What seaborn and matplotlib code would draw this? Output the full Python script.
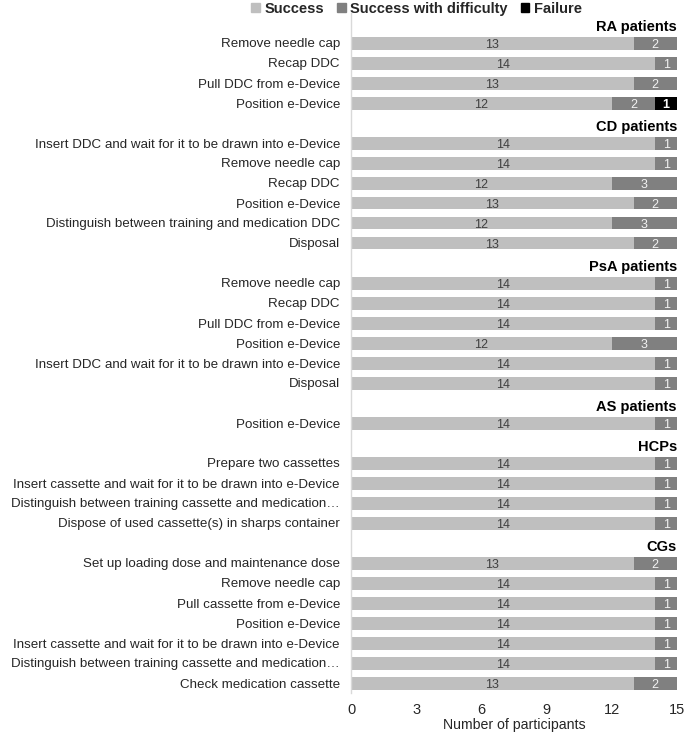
import matplotlib
matplotlib.use("Agg")
import matplotlib.pyplot as plt
import seaborn as sns
import pandas as pd
from matplotlib.patches import Patch

sns.set_theme(style="white")
plt.rcParams['font.family'] = ['Liberation Sans', 'DejaVu Sans']

groups = ["RA patients", "CD patients", "PsA patients", "AS patients", "HCPs", "CGs"]

ra_tasks = ["Remove needle cap", "Recap DDC", "Pull DDC from e-Device", "Position e-Device"]
ra_success = [13, 14, 13, 12]
ra_difficulty = [2, 1, 2, 2]
ra_failure = [0, 0, 0, 1]

cd_tasks = ["Insert DDC and wait for it to be drawn into e-Device", "Remove needle cap", "Recap DDC",
            "Position e-Device", "Distinguish between training and medication DDC", "Disposal"]
cd_success = [14, 14, 12, 13, 12, 13]
cd_difficulty = [1, 1, 3, 2, 3, 2]
cd_failure = [0, 0, 0, 0, 0, 0]

psa_tasks = ["Remove needle cap", "Recap DDC", "Pull DDC from e-Device", "Position e-Device",
             "Insert DDC and wait for it to be drawn into e-Device", "Disposal"]
psa_success = [14, 14, 14, 12, 14, 14]
psa_difficulty = [1, 1, 1, 3, 1, 1]
psa_failure = [0, 0, 0, 0, 0, 0]

as_tasks = ["Position e-Device"]
as_success = [14]
as_difficulty = [1]
as_failure = [0]

hcp_tasks = ["Prepare two cassettes", "Insert cassette and wait for it to be drawn into e-Device",
             "Distinguish between training cassette and medication\u2026",
             "Dispose of used cassette(s) in sharps container"]
hcp_success = [14, 14, 14, 14]
hcp_difficulty = [1, 1, 1, 1]
hcp_failure = [0, 0, 0, 0]

cg_tasks = ["Set up loading dose and maintenance dose", "Remove needle cap", "Pull cassette from e-Device",
            "Position e-Device", "Insert cassette and wait for it to be drawn into e-Device",
            "Distinguish between training cassette and medication\u2026", "Check medication cassette"]
cg_success = [13, 14, 14, 14, 14, 14, 13]
cg_difficulty = [2, 1, 1, 1, 1, 1, 2]
cg_failure = [0, 0, 0, 0, 0, 0, 0]

xticks = [0, 3, 6, 9, 12, 15]

group_data = [
    (ra_tasks, ra_success, ra_difficulty, ra_failure),
    (cd_tasks, cd_success, cd_difficulty, cd_failure),
    (psa_tasks, psa_success, psa_difficulty, psa_failure),
    (as_tasks, as_success, as_difficulty, as_failure),
    (hcp_tasks, hcp_success, hcp_difficulty, hcp_failure),
    (cg_tasks, cg_success, cg_difficulty, cg_failure),
]

rows = []
order = []
ylabels = []
header_pos = []
for gi, (g, (tasks, s, d, f)) in enumerate(zip(groups, group_data)):
    hk = f"{gi}_header"
    order.append(hk)
    ylabels.append("")
    header_pos.append((len(order) - 1, g))
    for ti, t in enumerate(tasks):
        key = f"{gi}_{ti}"
        order.append(key)
        ylabels.append(t)
        rows.append(dict(key=key, success=s[ti], difficulty=d[ti], failure=f[ti]))

df = pd.DataFrame(rows)
df["c2"] = df["success"] + df["difficulty"]
df["c3"] = df["c2"] + df["failure"]

c_succ = "#BFBFBF"
c_diff = "#808080"
c_fail = "#000000"

fig = plt.figure(figsize=(6.85, 7.35), dpi=100)
ax = fig.add_axes([351/685, 1 - 693/735, (677-351)/685, (693-13)/735])

bw = 0.65
sns.barplot(data=df, x="c3", y="key", order=order, color=c_fail, saturation=1,
            width=bw, errorbar=None, ax=ax, linewidth=0)
sns.barplot(data=df, x="c2", y="key", order=order, color=c_diff, saturation=1,
            width=bw, errorbar=None, ax=ax, linewidth=0)
sns.barplot(data=df, x="success", y="key", order=order, color=c_succ, saturation=1,
            width=bw, errorbar=None, ax=ax, linewidth=0)

pos = {k: i for i, k in enumerate(order)}
for _, r in df.iterrows():
    y = pos[r["key"]]
    if r["success"] > 0:
        ax.text(r["success"] / 2, y, str(r["success"]), ha="center", va="center_baseline",
                fontsize=9, color="#404040")
    if r["difficulty"] > 0:
        ax.text(r["success"] + r["difficulty"] / 2, y, str(r["difficulty"]), ha="center",
                va="center_baseline", fontsize=9, color="#F2F2F2")
    if r["failure"] > 0:
        ax.text(r["c2"] + r["failure"] / 2, y, str(r["failure"]), ha="center",
                va="center_baseline", fontsize=9, color="white", fontweight="bold")

for p, g in header_pos:
    ax.text(15, p + 0.2, g, ha="right", va="center", fontsize=10.5, fontweight="bold", color="#000000")

ax.set_xlim(0, 15)
ax.set_ylim(len(order) - 0.5, -0.5)
ax.set_xticks(xticks)
ax.set_xticklabels([str(x) for x in xticks], fontsize=10.5, color="#262626")
ax.set_yticks(range(len(order)))
ax.set_yticklabels(ylabels, fontsize=9.6, color="#262626")
ax.tick_params(axis="y", length=0, pad=8)
ax.tick_params(axis="x", length=0, pad=7)
ax.set_ylabel("")
ax.set_xlabel("Number of participants", fontsize=10.2, color="#262626", labelpad=1)
for s in ["top", "right", "bottom"]:
    ax.spines[s].set_visible(False)
ax.spines["left"].set_color("#D9D9D9")
ax.spines["left"].set_linewidth(1)

handles = [Patch(color=c_succ, label="Success"),
           Patch(color=c_diff, label="Success with difficulty"),
           Patch(color=c_fail, label="Failure")]
leg = fig.legend(handles=handles, loc="center", bbox_to_anchor=(0.608, 0.988), ncol=3,
                 frameon=False, handlelength=0.6, handleheight=0.6, handletextpad=0.3,
                 columnspacing=0.9, borderpad=0,
                 prop={"weight": "bold", "size": 10.5})
for t in leg.get_texts():
    t.set_color("#262626")

fig.savefig("out.png", dpi=100)
